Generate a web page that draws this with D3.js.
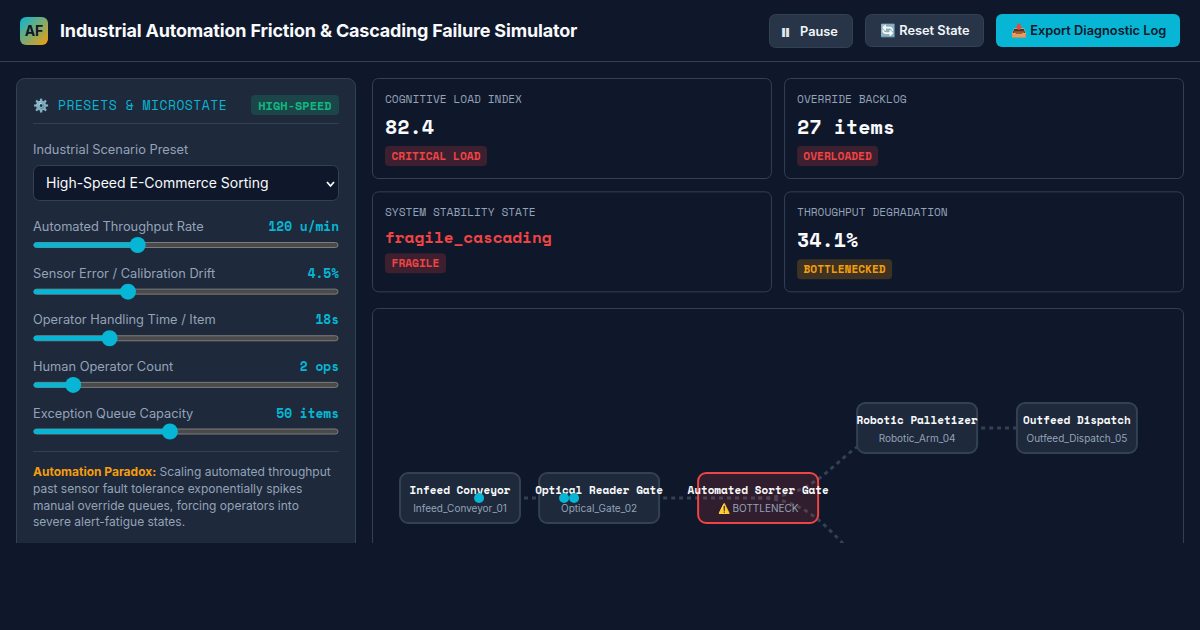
<!DOCTYPE html>
<html><head><meta charset="utf-8">
<script src="https://cdn.jsdelivr.net/npm/d3@7"></script>
<style>
html,body{margin:0;padding:0;background:#0f172a;overflow:hidden}
svg{display:block}
text{font-family:Inter,sans-serif;white-space:pre}
.m{font-family:"Space Mono","JetBrains Mono","DejaVu Sans Mono","Liberation Mono",monospace}
</style></head><body><div id="c"></div>
<script>
const title = "Industrial Automation Friction & Cascading Failure Simulator";
const pauseGlyph = "\u23F8\uFE0E";
const buttons = ["Pause","🔄 Reset State","📥 Export Diagnostic Log"];
const sliderLabels = ["Automated Throughput Rate","Sensor Error / Calibration Drift","Operator Handling Time / Item","Human Operator Count","Exception Queue Capacity"];
const sliderReadouts = ["120 u/min","4.5%","18s","2 ops","50 items"];
const sliderValues = [120,4.5,18,2,50];
const sliderMin = [20,0,5,1,10];
const sliderMax = [320,15,60,10,100];
const cardLabels = ["COGNITIVE LOAD INDEX","OVERRIDE BACKLOG","SYSTEM STABILITY STATE","THROUGHPUT DEGRADATION"];
const cardValues = ["82.4","27 items","fragile_cascading","34.1%"];
const cardBadges = ["CRITICAL LOAD","OVERLOADED","FRAGILE","BOTTLENECKED"];
const cardTones = ["red","red","red","amber"];
const noteLines = ["Scaling automated throughput","past sensor fault tolerance exponentially spikes","manual override queues, forcing operators into","severe alert-fatigue states."];
const nodeNames = ["Infeed Conveyor","Optical Reader Gate","Automated Sorter Gate","Robotic Palletizer","Outfeed Dispatch","Manual Override Station"];
const nodeSubs = ["Infeed_Conveyor_01","Optical_Gate_02","⚠️ BOTTLENECK","Robotic_Arm_04","Outfeed_Dispatch_05","Manual_Station_06"];
const nodeCols = [0,0.875,1.875,2.875,3.88,2.875];
const nodeLanes = [0,0,0,-1,-1,1.143];
const linkFrom = [0,1,2,3,2];
const linkTo = [1,2,3,4,5];
const packetLink = [0,0,0];
const packetT = [0.137,0.748,0.82];

const C={bg:"#0f172a",page:"#0f172a",panel:"#1e293b",btn:"#283548",line:"#334155",cyan:"#06b6d4",red:"#ef4444",amber:"#f59e0b",green:"#10b981",mut:"#94a3b8",white:"#f8fafc"};
const svg=d3.select("#c").append("svg").attr("width",1200).attr("height",630);
const defs=svg.append("defs");
const g=defs.append("linearGradient").attr("id","lg").attr("x1",0).attr("y1",0).attr("x2",1).attr("y2",1);
g.append("stop").attr("offset",0).attr("stop-color",C.cyan);
g.append("stop").attr("offset",1).attr("stop-color",C.amber);
defs.append("clipPath").attr("id","clip").append("rect").attr("width",1200).attr("height",543);

svg.append("rect").attr("width",1200).attr("height",630).attr("fill",C.page);
const root=svg.append("g").attr("clip-path","url(#clip)");
root.append("rect").attr("width",1200).attr("height",543).attr("fill",C.bg);

function T(p,x,y,s,o={}){
  const t=p.append("text").attr("x",x).attr("y",y).text(s).attr("font-size",o.size||13).attr("fill",o.fill||C.white)
   .attr("font-weight",o.w||400).attr("text-anchor",o.a||"start");
  if(o.mono)t.attr("class","m");
  if(o.ls!==undefined)t.attr("letter-spacing",o.ls);
  return t;
}
function R(p,x,y,w,h,r,fill,stroke,sw=1){
  return p.append("rect").attr("x",x).attr("y",y).attr("width",w).attr("height",h).attr("rx",r).attr("fill",fill).attr("stroke",stroke||"none").attr("stroke-width",stroke?sw:0);
}
// header
root.append("rect").attr("y",61).attr("width",1200).attr("height",1).attr("fill",C.line);
R(root,20,17,28,28,6,"url(#lg)");
T(root,34,36,"AF",{size:14,w:700,fill:C.bg,a:"middle"});
T(root,60,37,title,{size:18,w:700,ls:-0.18});
R(root,769.5,14.5,83,33,6,C.btn,C.line);
T(root,780,39,pauseGlyph,{size:22,w:400,fill:"#e2e8f0"});
T(root,800,35.5,buttons[0],{size:12.8,w:600,fill:"#f1f5f9"});
R(root,865.5,14.5,118,32,6,C.btn,C.line);
T(root,880,35,buttons[1],{size:12.8,w:600,fill:"#f1f5f9"});
R(root,996,14,184,33,6,C.cyan);
T(root,1011,35,buttons[2],{size:12.8,w:600,fill:C.bg});

// left panel
R(root,16.5,78.5,339,500,8,C.panel,C.line);
T(root,33,110,"⚙️",{size:13});
T(root,58,110,"PRESETS & MICROSTATE",{size:13,mono:true,fill:C.cyan,ls:0.5});
R(root,251,95,88,20,4,"rgba(16,185,129,0.2)");
T(root,295,109.5,"HIGH-SPEED",{size:12,mono:true,w:700,fill:C.green,a:"middle"});
root.append("rect").attr("x",33).attr("y",123).attr("width",306).attr("height",1).attr("fill",C.line);
T(root,33,154,"Industrial Scenario Preset",{size:12.8,fill:C.mut});
R(root,33.5,165.5,305,35,6,C.bg,C.line);
T(root,46,188,"High-Speed E-Commerce Sorting",{size:14,fill:C.white});
root.append("path").attr("d",d3.line()([[327,182],[330.5,186],[334,182]])).attr("fill","none").attr("stroke",C.white).attr("stroke-width",1.8);

const sliderY=d3.scaleLinear().domain([0,4]).range([245,431.5]);
sliderLabels.forEach((l,i)=>{
  const y=sliderY(i);
  const x=d3.scaleLinear().domain([sliderMin[i],sliderMax[i]]).range([41,331]);
  const v=x(sliderValues[i]);
  T(root,33,y-14,l,{size:12.8,fill:C.mut});
  T(root,339,y-14,sliderReadouts[i],{size:12.8,mono:true,w:700,fill:C.cyan,a:"end"});
  R(root,34,y-2.5,304,5,2.5,"#4a4a4a","#7c7c7c",1);
  R(root,33.5,y-2.5,v-33.5,5,2.5,C.cyan);
  root.append("circle").attr("cx",v).attr("cy",y).attr("r",8).attr("fill",C.cyan);
});
root.append("rect").attr("x",33).attr("y",451).attr("width",306).attr("height",1).attr("fill",C.line);
const note=T(root,33,476,"",{size:12,fill:C.mut});
note.append("tspan").attr("font-weight",700).attr("fill",C.amber).text("Automation Paradox:");
note.append("tspan").text(" "+noteLines[0]);
noteLines.slice(1).forEach((s,i)=>T(root,33,492.8+i*16.8,s,{size:12,fill:C.mut}));

// cards
const cardX=d3.scaleBand().domain([0,1]).range([372,1184]).paddingInner(12/406);
const cardY=d3.scaleBand().domain([0,1]).range([78,292]).paddingInner(12/107);
const tone={red:[C.red,"rgba(239,68,68,0.2)"],amber:[C.amber,"rgba(245,158,11,0.2)"]};
cardLabels.forEach((l,i)=>{
  const x=cardX(i%2),y=cardY(Math.floor(i/2));
  R(root,x+.5,y+.5,cardX.bandwidth()-1,100,6,C.bg,C.line);
  T(root,x+13,y+25,l,{size:11.2,mono:true,fill:C.mut});
  const st=i==2;
  T(root,x+13,y+(st?52:56),cardValues[i],{size:st?16:20,mono:true,w:700,fill:st?C.red:C.white});
  const [fg,bgc]=tone[cardTones[i]];
  const by=st?y+62:y+68;
  const bw=[102,81,61,95][i];
  R(root,x+13,by,bw,20,4,bgc);
  T(root,x+13+bw/2,by+14,cardBadges[i],{size:11.2,mono:true,w:700,fill:fg,a:"middle"});
});

// network
R(root,372.5,308.5,811,300,6,C.bg,C.line);
const nx=d3.scaleLinear().domain([0,1]).range([460,619]);
const ny=d3.scaleLinear().domain([-1,0]).range([428,498]);
const P=i=>[nx(nodeCols[i]),ny(nodeLanes[i])];
const linkGen=d3.linkHorizontal();
const paths=linkFrom.map((s,i)=>linkGen({source:P(s),target:P(linkTo[i])}));
root.selectAll("path.link").data(paths).join("path").attr("class","link").attr("d",d=>d)
  .attr("fill","none").attr("stroke",C.line).attr("stroke-width",3).attr("stroke-dasharray","4 4");
nodeNames.forEach((n,i)=>{
  const [x,y]=P(i),hot=i==2;
  R(root,x-60,y-25,120,50,8,hot?"rgba(239,68,68,0.15)":C.panel,hot?C.red:C.line,2);
});
nodeNames.forEach((n,i)=>{
  const [x,y]=P(i);
  T(root,x,y-4,n,{size:11,mono:true,w:700,a:"middle"});
  T(root,x,y+14,nodeSubs[i],{size:10,fill:C.mut,a:"middle"});
});
const tmp=svg.append("path").attr("visibility","hidden");
packetT.forEach((t,i)=>{
  tmp.attr("d",paths[packetLink[i]]);
  const pt=tmp.node().getPointAtLength(t*tmp.node().getTotalLength());
  root.append("circle").attr("cx",pt.x).attr("cy",pt.y).attr("r",5).attr("fill",C.cyan);
});
tmp.remove();
</script></body></html>
